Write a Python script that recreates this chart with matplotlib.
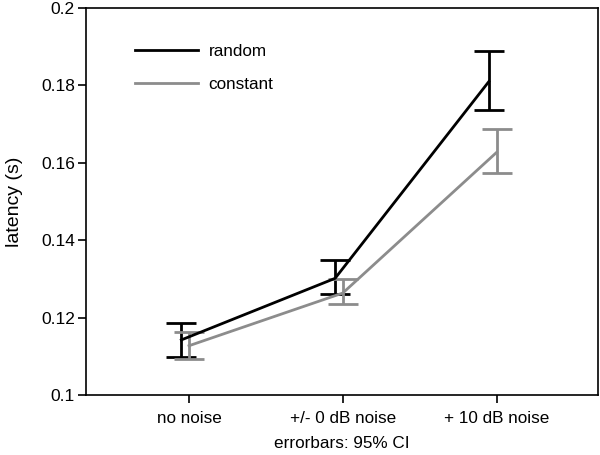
import matplotlib
matplotlib.use("Agg")
import matplotlib.pyplot as plt
from matplotlib.lines import Line2D
import numpy as np

plt.rcParams['font.family'] = ['Liberation Sans', 'DejaVu Sans']

categories = ["no noise", "+/- 0 dB noise", "+ 10 dB noise"]
random_mean = [0.1143, 0.1302, 0.1810]
random_lo = [0.1098, 0.1262, 0.1736]
random_hi = [0.1186, 0.1350, 0.1890]
constant_mean = [0.1128, 0.1264, 0.1627]
constant_lo = [0.1095, 0.1235, 0.1575]
constant_hi = [0.1163, 0.1300, 0.1687]
yticks = [0.1, 0.12, 0.14, 0.16, 0.18, 0.2]
ytick_labels = ["0.1", "0.12", "0.14", "0.16", "0.18", "0.2"]

fig = plt.figure(figsize=(6.0, 4.55), dpi=100)
ax = fig.add_axes([86/600, 1-395.3/455, (598-86)/600, (395.3-8)/455])

x = np.arange(1, len(categories) + 1)
xr = x - 0.05
grey = '#8c8c8c'

rm = np.array(random_mean)
cm = np.array(constant_mean)
ax.errorbar(xr, rm, yerr=[rm - np.array(random_lo), np.array(random_hi) - rm],
            color='black', lw=2, elinewidth=2, capsize=10.5, capthick=2, label='random')
ax.errorbar(x, cm, yerr=[cm - np.array(constant_lo), np.array(constant_hi) - cm],
            color=grey, lw=2, elinewidth=2, capsize=10.5, capthick=2, label='constant')

ax.set_xlim(0.33, 3.66)
ax.set_ylim(0.1, 0.2)
ax.set_xticks(x)
ax.set_xticklabels(categories, fontsize=12.3)
ax.set_yticks(yticks)
ax.set_yticklabels(ytick_labels, fontsize=12.5)
ax.tick_params(direction='out', length=6, width=1.2)
ax.tick_params(axis='x', pad=5)
ax.tick_params(axis='y', pad=2)
for s in ax.spines.values():
    s.set_linewidth(1.2)
ax.set_ylabel("latency (s)", fontsize=14)
ax.yaxis.set_label_coords(-0.124, 0.5)
ax.set_xlabel("errorbars: 95% CI", fontsize=12.3)
ax.xaxis.set_label_coords(0.5, -0.106)

h = [Line2D([], [], color='black', lw=2), Line2D([], [], color=grey, lw=2)]
ax.legend(h, ['random', 'constant'], loc='upper left', bbox_to_anchor=(0.066, 0.948),
          frameon=False, fontsize=12.3, handlelength=3.65, handletextpad=0.65,
          labelspacing=1.06)

fig.savefig("out.png", dpi=100)
